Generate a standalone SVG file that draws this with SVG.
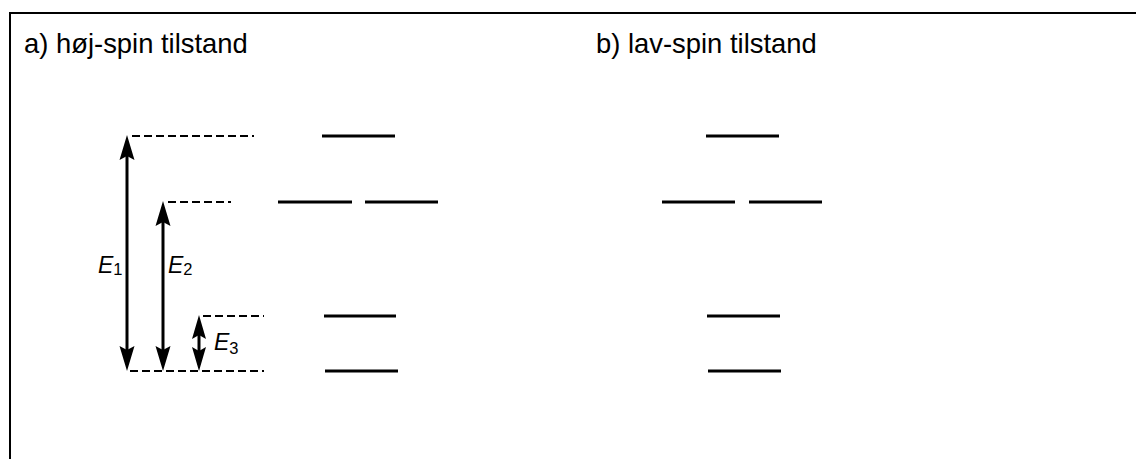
<svg xmlns="http://www.w3.org/2000/svg" width="1136" height="459" viewBox="0 0 1136 459">
<style>
.title{font-family:"Liberation Sans",Arial,sans-serif;font-size:27.4px;fill:#000}
.lbl{font-family:"Liberation Sans",Arial,sans-serif;font-size:23px;font-style:italic;fill:#000}
.sub{font-style:normal;font-size:16.5px}
.lvl{stroke:#000;stroke-width:3;fill:none}
.dash{stroke:#000;stroke-width:2;stroke-dasharray:8 4;fill:none}
.arr{stroke:#000;stroke-width:3;fill:none}
</style>
<defs>
<marker id="ah" markerUnits="userSpaceOnUse" viewBox="-30 -10 32 20" refX="-12" refY="0" markerWidth="32" markerHeight="20" orient="auto-start-reverse">
<path d="M0,0 L-25,-7.5 L-21,0 L-25,7.5 Z" fill="#000"/>
</marker>
<marker id="ahs" markerUnits="userSpaceOnUse" viewBox="-30 -10 32 20" refX="-10" refY="0" markerWidth="32" markerHeight="20" orient="auto-start-reverse">
<path d="M0,0 L-24,-7 L-20,0 L-24,7 Z" fill="#000"/>
</marker>
</defs>
<rect x="10" y="13" width="1140" height="460" fill="#fff" stroke="#000" stroke-width="2"/>
<text class="title" x="24" y="53">a) høj-spin tilstand</text>
<text class="title" x="596" y="53">b) lav-spin tilstand</text>
<g id="highspin-levels">
<line class="lvl" x1="322" y1="136" x2="395" y2="136"/>
<line class="lvl" x1="278" y1="202" x2="352" y2="202"/>
<line class="lvl" x1="365" y1="202" x2="438" y2="202"/>
<line class="lvl" x1="324" y1="316" x2="396" y2="316"/>
<line class="lvl" x1="325" y1="371" x2="398" y2="371"/>
</g>
<g id="lowspin-levels">
<line class="lvl" x1="706" y1="136" x2="779" y2="136"/>
<line class="lvl" x1="662" y1="202" x2="735" y2="202"/>
<line class="lvl" x1="749" y1="202" x2="822" y2="202"/>
<line class="lvl" x1="707" y1="316" x2="780" y2="316"/>
<line class="lvl" x1="708" y1="371" x2="781" y2="371"/>
</g>
<g id="connectors">
<line class="dash" x1="132" y1="136" x2="254" y2="136"/>
<line class="dash" x1="168" y1="202" x2="231" y2="202"/>
<line class="dash" x1="203" y1="316" x2="264" y2="316"/>
<line class="dash" x1="130" y1="371" x2="264" y2="371"/>
<line class="arr" x1="127" y1="147" x2="127" y2="359" marker-start="url(#ah)" marker-end="url(#ah)"/>
<line class="arr" x1="163" y1="213" x2="163" y2="359" marker-start="url(#ah)" marker-end="url(#ah)"/>
<line class="arr" x1="199" y1="325" x2="199" y2="361" marker-start="url(#ahs)" marker-end="url(#ahs)"/>
</g>
<g id="labels">
<text class="lbl" x="98" y="273">E<tspan class="sub" dy="2">1</tspan></text>
<text class="lbl" x="168" y="273">E<tspan class="sub" dy="2">2</tspan></text>
<text class="lbl" x="214" y="350">E<tspan class="sub" dy="4">3</tspan></text>
</g>
</svg>
